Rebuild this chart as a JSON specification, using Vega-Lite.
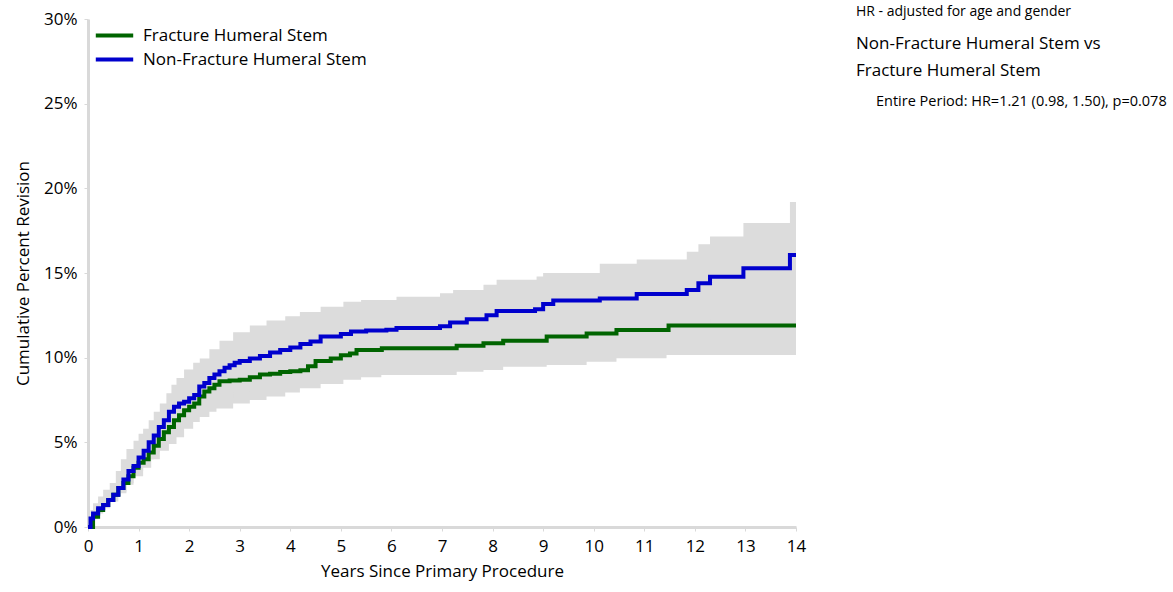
{
  "$schema": "https://vega.github.io/schema/vega-lite/v6.json",
  "width": 708,
  "height": 508,
  "autosize": "none",
  "padding": {"left": 88, "top": 19, "right": 377, "bottom": 65},
  "background": "white",
  "config": {
    "font": "Open Sans",
    "view": {"stroke": null},
    "axis": {
      "grid": false,
      "domainColor": "#d9d9d9",
      "domainWidth": 3,
      "tickColor": "#d9d9d9",
      "tickWidth": 1,
      "tickSize": 4,
      "labelFont": "Open Sans",
      "labelFontSize": 17,
      "labelColor": "#000000",
      "titleFont": "Open Sans",
      "titleFontSize": 17,
      "titleFontWeight": "normal",
      "titleColor": "#000000"
    }
  },
  "datasets": {
    "curves": [
      {"series": "Fracture Humeral Stem", "years": 0, "pct": 0},
      {"series": "Fracture Humeral Stem", "years": 0.1, "pct": 0.6},
      {"series": "Fracture Humeral Stem", "years": 0.2, "pct": 1.0},
      {"series": "Fracture Humeral Stem", "years": 0.3, "pct": 1.3},
      {"series": "Fracture Humeral Stem", "years": 0.4, "pct": 1.6},
      {"series": "Fracture Humeral Stem", "years": 0.5, "pct": 1.9},
      {"series": "Fracture Humeral Stem", "years": 0.6, "pct": 2.3},
      {"series": "Fracture Humeral Stem", "years": 0.7, "pct": 2.6},
      {"series": "Fracture Humeral Stem", "years": 0.8, "pct": 3.0},
      {"series": "Fracture Humeral Stem", "years": 0.9, "pct": 3.5},
      {"series": "Fracture Humeral Stem", "years": 1.0, "pct": 3.8},
      {"series": "Fracture Humeral Stem", "years": 1.1, "pct": 4.0},
      {"series": "Fracture Humeral Stem", "years": 1.2, "pct": 4.4},
      {"series": "Fracture Humeral Stem", "years": 1.3, "pct": 4.8},
      {"series": "Fracture Humeral Stem", "years": 1.4, "pct": 5.2},
      {"series": "Fracture Humeral Stem", "years": 1.5, "pct": 5.6},
      {"series": "Fracture Humeral Stem", "years": 1.6, "pct": 5.9},
      {"series": "Fracture Humeral Stem", "years": 1.7, "pct": 6.3},
      {"series": "Fracture Humeral Stem", "years": 1.8, "pct": 6.6},
      {"series": "Fracture Humeral Stem", "years": 1.9, "pct": 6.9},
      {"series": "Fracture Humeral Stem", "years": 2.0, "pct": 7.1},
      {"series": "Fracture Humeral Stem", "years": 2.1, "pct": 7.3},
      {"series": "Fracture Humeral Stem", "years": 2.2, "pct": 7.7},
      {"series": "Fracture Humeral Stem", "years": 2.3, "pct": 8.0},
      {"series": "Fracture Humeral Stem", "years": 2.4, "pct": 8.2},
      {"series": "Fracture Humeral Stem", "years": 2.5, "pct": 8.4},
      {"series": "Fracture Humeral Stem", "years": 2.6, "pct": 8.6},
      {"series": "Fracture Humeral Stem", "years": 2.8, "pct": 8.65},
      {"series": "Fracture Humeral Stem", "years": 3.0, "pct": 8.7},
      {"series": "Fracture Humeral Stem", "years": 3.2, "pct": 8.85},
      {"series": "Fracture Humeral Stem", "years": 3.4, "pct": 9.0},
      {"series": "Fracture Humeral Stem", "years": 3.6, "pct": 9.05},
      {"series": "Fracture Humeral Stem", "years": 3.8, "pct": 9.15},
      {"series": "Fracture Humeral Stem", "years": 4.0, "pct": 9.2},
      {"series": "Fracture Humeral Stem", "years": 4.2, "pct": 9.25},
      {"series": "Fracture Humeral Stem", "years": 4.35, "pct": 9.5},
      {"series": "Fracture Humeral Stem", "years": 4.5, "pct": 9.8},
      {"series": "Fracture Humeral Stem", "years": 4.8, "pct": 9.95},
      {"series": "Fracture Humeral Stem", "years": 5.0, "pct": 10.15},
      {"series": "Fracture Humeral Stem", "years": 5.18, "pct": 10.25},
      {"series": "Fracture Humeral Stem", "years": 5.31, "pct": 10.45},
      {"series": "Fracture Humeral Stem", "years": 5.81, "pct": 10.55},
      {"series": "Fracture Humeral Stem", "years": 7.29, "pct": 10.7},
      {"series": "Fracture Humeral Stem", "years": 7.82, "pct": 10.85},
      {"series": "Fracture Humeral Stem", "years": 8.21, "pct": 11.0},
      {"series": "Fracture Humeral Stem", "years": 9.07, "pct": 11.25},
      {"series": "Fracture Humeral Stem", "years": 9.86, "pct": 11.42},
      {"series": "Fracture Humeral Stem", "years": 10.45, "pct": 11.63},
      {"series": "Fracture Humeral Stem", "years": 11.48, "pct": 11.9},
      {"series": "Fracture Humeral Stem", "years": 14.0, "pct": 11.9},
      {"series": "Non-Fracture Humeral Stem", "years": 0, "pct": 0},
      {"series": "Non-Fracture Humeral Stem", "years": 0.05, "pct": 0.5},
      {"series": "Non-Fracture Humeral Stem", "years": 0.1, "pct": 0.8},
      {"series": "Non-Fracture Humeral Stem", "years": 0.2, "pct": 1.1},
      {"series": "Non-Fracture Humeral Stem", "years": 0.3, "pct": 1.3},
      {"series": "Non-Fracture Humeral Stem", "years": 0.4, "pct": 1.6},
      {"series": "Non-Fracture Humeral Stem", "years": 0.5, "pct": 1.9},
      {"series": "Non-Fracture Humeral Stem", "years": 0.6, "pct": 2.3},
      {"series": "Non-Fracture Humeral Stem", "years": 0.7, "pct": 2.8},
      {"series": "Non-Fracture Humeral Stem", "years": 0.8, "pct": 3.3},
      {"series": "Non-Fracture Humeral Stem", "years": 0.9, "pct": 3.6},
      {"series": "Non-Fracture Humeral Stem", "years": 1.0, "pct": 4.1},
      {"series": "Non-Fracture Humeral Stem", "years": 1.1, "pct": 4.5},
      {"series": "Non-Fracture Humeral Stem", "years": 1.2, "pct": 5.0},
      {"series": "Non-Fracture Humeral Stem", "years": 1.3, "pct": 5.4},
      {"series": "Non-Fracture Humeral Stem", "years": 1.4, "pct": 5.9},
      {"series": "Non-Fracture Humeral Stem", "years": 1.5, "pct": 6.3},
      {"series": "Non-Fracture Humeral Stem", "years": 1.6, "pct": 6.8},
      {"series": "Non-Fracture Humeral Stem", "years": 1.7, "pct": 7.1},
      {"series": "Non-Fracture Humeral Stem", "years": 1.8, "pct": 7.3},
      {"series": "Non-Fracture Humeral Stem", "years": 1.9, "pct": 7.4},
      {"series": "Non-Fracture Humeral Stem", "years": 2.0, "pct": 7.6},
      {"series": "Non-Fracture Humeral Stem", "years": 2.1, "pct": 7.8},
      {"series": "Non-Fracture Humeral Stem", "years": 2.2, "pct": 8.3},
      {"series": "Non-Fracture Humeral Stem", "years": 2.3, "pct": 8.5},
      {"series": "Non-Fracture Humeral Stem", "years": 2.4, "pct": 8.8},
      {"series": "Non-Fracture Humeral Stem", "years": 2.5, "pct": 9.0},
      {"series": "Non-Fracture Humeral Stem", "years": 2.6, "pct": 9.2},
      {"series": "Non-Fracture Humeral Stem", "years": 2.7, "pct": 9.4},
      {"series": "Non-Fracture Humeral Stem", "years": 2.8, "pct": 9.55},
      {"series": "Non-Fracture Humeral Stem", "years": 2.9, "pct": 9.7},
      {"series": "Non-Fracture Humeral Stem", "years": 3.0, "pct": 9.8},
      {"series": "Non-Fracture Humeral Stem", "years": 3.2, "pct": 9.95},
      {"series": "Non-Fracture Humeral Stem", "years": 3.4, "pct": 10.1},
      {"series": "Non-Fracture Humeral Stem", "years": 3.6, "pct": 10.3},
      {"series": "Non-Fracture Humeral Stem", "years": 3.8, "pct": 10.45},
      {"series": "Non-Fracture Humeral Stem", "years": 4.0, "pct": 10.6},
      {"series": "Non-Fracture Humeral Stem", "years": 4.2, "pct": 10.8},
      {"series": "Non-Fracture Humeral Stem", "years": 4.4, "pct": 10.95},
      {"series": "Non-Fracture Humeral Stem", "years": 4.6, "pct": 11.25},
      {"series": "Non-Fracture Humeral Stem", "years": 5.0, "pct": 11.4},
      {"series": "Non-Fracture Humeral Stem", "years": 5.2, "pct": 11.55},
      {"series": "Non-Fracture Humeral Stem", "years": 5.5, "pct": 11.6},
      {"series": "Non-Fracture Humeral Stem", "years": 5.9, "pct": 11.65},
      {"series": "Non-Fracture Humeral Stem", "years": 6.1, "pct": 11.75},
      {"series": "Non-Fracture Humeral Stem", "years": 6.96, "pct": 11.85},
      {"series": "Non-Fracture Humeral Stem", "years": 7.16, "pct": 12.07},
      {"series": "Non-Fracture Humeral Stem", "years": 7.49, "pct": 12.27},
      {"series": "Non-Fracture Humeral Stem", "years": 7.88, "pct": 12.5},
      {"series": "Non-Fracture Humeral Stem", "years": 8.08, "pct": 12.75},
      {"series": "Non-Fracture Humeral Stem", "years": 8.84, "pct": 12.86},
      {"series": "Non-Fracture Humeral Stem", "years": 9.0, "pct": 13.17},
      {"series": "Non-Fracture Humeral Stem", "years": 9.2, "pct": 13.37},
      {"series": "Non-Fracture Humeral Stem", "years": 10.12, "pct": 13.5},
      {"series": "Non-Fracture Humeral Stem", "years": 10.85, "pct": 13.76},
      {"series": "Non-Fracture Humeral Stem", "years": 11.84, "pct": 14.0},
      {"series": "Non-Fracture Humeral Stem", "years": 12.07, "pct": 14.39},
      {"series": "Non-Fracture Humeral Stem", "years": 12.3, "pct": 14.78},
      {"series": "Non-Fracture Humeral Stem", "years": 12.96, "pct": 15.28},
      {"series": "Non-Fracture Humeral Stem", "years": 13.88, "pct": 16.06},
      {"series": "Non-Fracture Humeral Stem", "years": 14.0, "pct": 16.06}
    ],
    "bands": [
      {"series": "Fracture Humeral Stem", "years": 0, "lower": 0, "upper": 0},
      {"series": "Fracture Humeral Stem", "years": 0.1, "lower": 0.5, "upper": 1.2},
      {"series": "Fracture Humeral Stem", "years": 0.2, "lower": 0.8, "upper": 1.5},
      {"series": "Fracture Humeral Stem", "years": 0.3, "lower": 1.1, "upper": 1.8},
      {"series": "Fracture Humeral Stem", "years": 0.44, "lower": 1.5, "upper": 2.3},
      {"series": "Fracture Humeral Stem", "years": 0.6, "lower": 2.0, "upper": 2.9},
      {"series": "Fracture Humeral Stem", "years": 0.76, "lower": 2.5, "upper": 3.5},
      {"series": "Fracture Humeral Stem", "years": 0.9, "lower": 3.0, "upper": 4.1},
      {"series": "Fracture Humeral Stem", "years": 1.09, "lower": 3.5, "upper": 4.7},
      {"series": "Fracture Humeral Stem", "years": 1.25, "lower": 4.0, "upper": 5.4},
      {"series": "Fracture Humeral Stem", "years": 1.42, "lower": 4.5, "upper": 6.0},
      {"series": "Fracture Humeral Stem", "years": 1.6, "lower": 4.9, "upper": 6.7},
      {"series": "Fracture Humeral Stem", "years": 1.75, "lower": 5.3, "upper": 7.3},
      {"series": "Fracture Humeral Stem", "years": 1.9, "lower": 5.8, "upper": 7.9},
      {"series": "Fracture Humeral Stem", "years": 2.08, "lower": 6.2, "upper": 8.4},
      {"series": "Fracture Humeral Stem", "years": 2.21, "lower": 6.5, "upper": 8.8},
      {"series": "Fracture Humeral Stem", "years": 2.4, "lower": 6.8, "upper": 9.3},
      {"series": "Fracture Humeral Stem", "years": 2.54, "lower": 7.0, "upper": 9.6},
      {"series": "Fracture Humeral Stem", "years": 2.87, "lower": 7.3, "upper": 10.0},
      {"series": "Fracture Humeral Stem", "years": 3.2, "lower": 7.5, "upper": 10.2},
      {"series": "Fracture Humeral Stem", "years": 3.53, "lower": 7.7, "upper": 10.4},
      {"series": "Fracture Humeral Stem", "years": 3.9, "lower": 7.95, "upper": 10.5},
      {"series": "Fracture Humeral Stem", "years": 4.19, "lower": 8.2, "upper": 10.6},
      {"series": "Fracture Humeral Stem", "years": 4.6, "lower": 8.45, "upper": 11.1},
      {"series": "Fracture Humeral Stem", "years": 5.05, "lower": 8.7, "upper": 11.5},
      {"series": "Fracture Humeral Stem", "years": 5.4, "lower": 8.85, "upper": 11.8},
      {"series": "Fracture Humeral Stem", "years": 5.8, "lower": 8.98, "upper": 12.0},
      {"series": "Fracture Humeral Stem", "years": 7.29, "lower": 9.17, "upper": 12.2},
      {"series": "Fracture Humeral Stem", "years": 7.82, "lower": 9.27, "upper": 12.4},
      {"series": "Fracture Humeral Stem", "years": 8.21, "lower": 9.47, "upper": 12.6},
      {"series": "Fracture Humeral Stem", "years": 9.07, "lower": 9.57, "upper": 12.9},
      {"series": "Fracture Humeral Stem", "years": 9.86, "lower": 9.76, "upper": 13.1},
      {"series": "Fracture Humeral Stem", "years": 10.45, "lower": 9.96, "upper": 13.4},
      {"series": "Fracture Humeral Stem", "years": 11.44, "lower": 10.16, "upper": 13.8},
      {"series": "Fracture Humeral Stem", "years": 14.0, "lower": 10.16, "upper": 13.8},
      {"series": "Non-Fracture Humeral Stem", "years": 0, "lower": 0, "upper": 0},
      {"series": "Non-Fracture Humeral Stem", "years": 0.05, "lower": 0.3, "upper": 1.0},
      {"series": "Non-Fracture Humeral Stem", "years": 0.1, "lower": 0.5, "upper": 1.4},
      {"series": "Non-Fracture Humeral Stem", "years": 0.2, "lower": 0.9, "upper": 1.8},
      {"series": "Non-Fracture Humeral Stem", "years": 0.3, "lower": 1.2, "upper": 2.2},
      {"series": "Non-Fracture Humeral Stem", "years": 0.43, "lower": 1.5, "upper": 2.6},
      {"series": "Non-Fracture Humeral Stem", "years": 0.55, "lower": 1.8, "upper": 3.3},
      {"series": "Non-Fracture Humeral Stem", "years": 0.65, "lower": 2.1, "upper": 4.0},
      {"series": "Non-Fracture Humeral Stem", "years": 0.76, "lower": 2.6, "upper": 4.6},
      {"series": "Non-Fracture Humeral Stem", "years": 0.9, "lower": 3.1, "upper": 5.1},
      {"series": "Non-Fracture Humeral Stem", "years": 1.0, "lower": 3.3, "upper": 5.5},
      {"series": "Non-Fracture Humeral Stem", "years": 1.09, "lower": 3.7, "upper": 5.8},
      {"series": "Non-Fracture Humeral Stem", "years": 1.2, "lower": 4.0, "upper": 6.3},
      {"series": "Non-Fracture Humeral Stem", "years": 1.3, "lower": 4.4, "upper": 6.8},
      {"series": "Non-Fracture Humeral Stem", "years": 1.42, "lower": 4.8, "upper": 7.3},
      {"series": "Non-Fracture Humeral Stem", "years": 1.55, "lower": 5.2, "upper": 7.9},
      {"series": "Non-Fracture Humeral Stem", "years": 1.65, "lower": 5.7, "upper": 8.4},
      {"series": "Non-Fracture Humeral Stem", "years": 1.75, "lower": 6.0, "upper": 8.8},
      {"series": "Non-Fracture Humeral Stem", "years": 1.9, "lower": 6.3, "upper": 9.3},
      {"series": "Non-Fracture Humeral Stem", "years": 2.08, "lower": 6.6, "upper": 9.7},
      {"series": "Non-Fracture Humeral Stem", "years": 2.21, "lower": 6.9, "upper": 9.95},
      {"series": "Non-Fracture Humeral Stem", "years": 2.4, "lower": 7.3, "upper": 10.5},
      {"series": "Non-Fracture Humeral Stem", "years": 2.6, "lower": 7.6, "upper": 11.0},
      {"series": "Non-Fracture Humeral Stem", "years": 2.87, "lower": 8.0, "upper": 11.5},
      {"series": "Non-Fracture Humeral Stem", "years": 3.2, "lower": 8.2, "upper": 11.9},
      {"series": "Non-Fracture Humeral Stem", "years": 3.53, "lower": 8.4, "upper": 12.2},
      {"series": "Non-Fracture Humeral Stem", "years": 3.9, "lower": 8.6, "upper": 12.45},
      {"series": "Non-Fracture Humeral Stem", "years": 4.19, "lower": 8.8, "upper": 12.7},
      {"series": "Non-Fracture Humeral Stem", "years": 4.6, "lower": 9.2, "upper": 13.0},
      {"series": "Non-Fracture Humeral Stem", "years": 5.05, "lower": 9.5, "upper": 13.3},
      {"series": "Non-Fracture Humeral Stem", "years": 5.4, "lower": 9.6, "upper": 13.4},
      {"series": "Non-Fracture Humeral Stem", "years": 6.1, "lower": 9.8, "upper": 13.6},
      {"series": "Non-Fracture Humeral Stem", "years": 6.96, "lower": 10.0, "upper": 13.8},
      {"series": "Non-Fracture Humeral Stem", "years": 7.22, "lower": 10.2, "upper": 14.0},
      {"series": "Non-Fracture Humeral Stem", "years": 7.82, "lower": 10.3, "upper": 14.3},
      {"series": "Non-Fracture Humeral Stem", "years": 8.08, "lower": 10.6, "upper": 14.6},
      {"series": "Non-Fracture Humeral Stem", "years": 8.87, "lower": 10.7, "upper": 14.8},
      {"series": "Non-Fracture Humeral Stem", "years": 9.0, "lower": 10.9, "upper": 15.0},
      {"series": "Non-Fracture Humeral Stem", "years": 10.12, "lower": 11.2, "upper": 15.55},
      {"series": "Non-Fracture Humeral Stem", "years": 10.85, "lower": 11.4, "upper": 15.8},
      {"series": "Non-Fracture Humeral Stem", "years": 11.84, "lower": 11.7, "upper": 16.25},
      {"series": "Non-Fracture Humeral Stem", "years": 12.07, "lower": 12.0, "upper": 16.7},
      {"series": "Non-Fracture Humeral Stem", "years": 12.3, "lower": 12.3, "upper": 17.15},
      {"series": "Non-Fracture Humeral Stem", "years": 12.96, "lower": 12.7, "upper": 17.95},
      {"series": "Non-Fracture Humeral Stem", "years": 13.88, "lower": 13.3, "upper": 19.2},
      {"series": "Non-Fracture Humeral Stem", "years": 14.0, "lower": 13.3, "upper": 19.2}
    ]
  },
  "layer": [
    {
      "data": {"name": "bands"},
      "mark": {"type": "area", "interpolate": "step-after", "color": "#dcdcdc", "opacity": 1},
      "encoding": {
        "detail": {"field": "series", "type": "nominal"},
        "x": {
          "field": "years", "type": "quantitative",
          "scale": {"domain": [0, 14], "nice": false, "zero": false},
          "axis": {
            "title": "Years Since Primary Procedure",
            "values": [0, 1, 2, 3, 4, 5, 6, 7, 8, 9, 10, 11, 12, 13, 14],
            "format": "d",
            "labelFlush": false,
            "labelPadding": 7,
            "titlePadding": 9
          }
        },
        "y": {
          "field": "lower", "type": "quantitative",
          "scale": {"domain": [0, 30], "nice": false},
          "axis": {
            "title": "Cumulative Percent Revision",
            "values": [0, 5, 10, 15, 20, 25, 30],
            "labelExpr": "datum.value + '%'",
            "labelFlush": false,
            "labelPadding": 7,
            "titlePadding": 11
          }
        },
        "y2": {"field": "upper"}
      }
    },
    {
      "data": {"name": "curves"},
      "mark": {"type": "line", "interpolate": "step-after", "strokeWidth": 4},
      "encoding": {
        "x": {"field": "years", "type": "quantitative"},
        "y": {"field": "pct", "type": "quantitative"},
        "color": {
          "field": "series", "type": "nominal",
          "scale": {
            "domain": ["Fracture Humeral Stem", "Non-Fracture Humeral Stem"],
            "range": ["#006400", "#0000cd"]
          },
          "legend": {
            "title": null,
            "orient": "none",
            "legendX": 15,
            "legendY": 5,
            "symbolType": "M-2,0H2",
            "symbolSize": 350,
            "symbolStrokeWidth": 4,
            "labelFontSize": 17,
            "labelFont": "Open Sans",
            "labelColor": "#000000",
            "labelLimit": 400,
            "labelOffset": 17,
            "rowPadding": 4,
            "padding": 0
          }
        }
      }
    },
    {
      "data": {"values": [{"note": "HR - adjusted for age and gender"}]},
      "mark": {"type": "text", "align": "left", "baseline": "middle", "fontSize": 14, "font": "Open Sans", "color": "#000000"},
      "encoding": {"text": {"field": "note"}, "x": {"value": 768}, "y": {"value": -7}}
    },
    {
      "data": {"values": [{"note": "Non-Fracture Humeral Stem vs"}]},
      "mark": {"type": "text", "align": "left", "baseline": "middle", "fontSize": 17, "font": "Open Sans", "color": "#000000"},
      "encoding": {"text": {"field": "note"}, "x": {"value": 768}, "y": {"value": 25}}
    },
    {
      "data": {"values": [{"note": "Fracture Humeral Stem"}]},
      "mark": {"type": "text", "align": "left", "baseline": "middle", "fontSize": 17, "font": "Open Sans", "color": "#000000"},
      "encoding": {"text": {"field": "note"}, "x": {"value": 768}, "y": {"value": 52}}
    },
    {
      "data": {"values": [{"note": "Entire Period: HR=1.21 (0.98, 1.50), p=0.078"}]},
      "mark": {"type": "text", "align": "left", "baseline": "middle", "fontSize": 14.5, "font": "Open Sans", "color": "#000000"},
      "encoding": {"text": {"field": "note"}, "x": {"value": 788}, "y": {"value": 83}}
    }
  ]
}
